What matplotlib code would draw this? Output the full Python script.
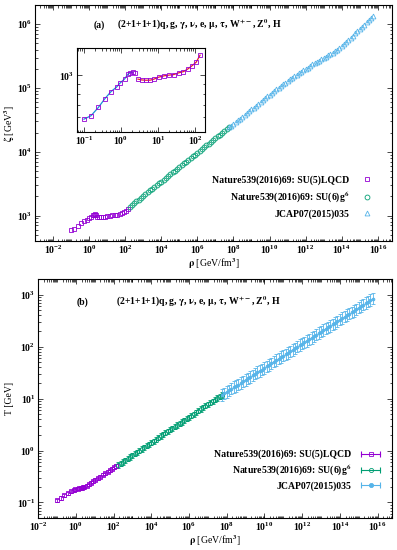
import numpy as np
import matplotlib
matplotlib.use("Agg")
import matplotlib.pyplot as plt
from matplotlib.lines import Line2D
from matplotlib.legend_handler import HandlerLine2D
from matplotlib.ticker import FixedLocator, LogLocator, NullFormatter

plt.rcParams['font.family'] = ['Liberation Serif', 'DejaVu Serif']
plt.rcParams['font.weight'] = 'bold'
plt.rcParams['mathtext.fontset'] = 'stix'
plt.rcParams['mathtext.default'] = 'bf'

# SU(5) lattice QCD (purple)
rho_su5 = [0.10, 0.155, 0.245, 0.37, 0.54, 0.76, 0.94, 1.26, 1.55, 1.8, 2.1, 2.4,
           2.88, 3.7, 4.8, 6.2, 7.8, 10.4, 14.5, 19.8, 27, 36, 49, 65, 83, 108, 137]
zeta_su5 = [585, 610, 675, 753, 820, 866, 909, 958, 1015, 1035, 1040, 1030,
            955, 945, 942, 943, 955, 978, 994, 1003, 1010, 1031, 1047, 1083, 1124, 1175, 1280]
T_su5 = [0.110, 0.122, 0.137, 0.150, 0.163, 0.173, 0.178, 0.184, 0.188, 0.191, 0.194, 0.197,
         0.202, 0.212, 0.226, 0.240, 0.254, 0.272, 0.294, 0.316, 0.340, 0.365, 0.393, 0.420,
         0.447, 0.476, 0.505]

# SU(6) g^6 (green), log10 values
lrho_su6 = [2.25, 2.375, 2.5, 2.625, 2.75, 2.875, 3.0, 3.125, 3.25, 3.375, 3.5, 3.625, 3.75,
            3.875, 4.0, 4.125, 4.25, 4.375, 4.5, 4.625, 4.75, 4.875, 5.0, 5.125, 5.25, 5.375,
            5.5, 5.625, 5.75, 5.875, 6.0, 6.125, 6.25, 6.375, 6.5, 6.625, 6.75, 6.875, 7.0,
            7.125, 7.25, 7.375, 7.5, 7.625, 7.75]
lzeta_su6 = [3.14, 3.17, 3.20, 3.225, 3.25, 3.28, 3.31, 3.34, 3.37, 3.395, 3.42, 3.45, 3.48,
             3.505, 3.53, 3.56, 3.59, 3.62, 3.65, 3.675, 3.70, 3.73, 3.76, 3.79, 3.82, 3.845,
             3.87, 3.90, 3.93, 3.955, 3.98, 4.01, 4.04, 4.07, 4.10, 4.125, 4.15, 4.18, 4.21,
             4.24, 4.27, 4.295, 4.32, 4.35, 4.38]
lT_su6 = [-0.28, -0.25, -0.22, -0.19, -0.16, -0.125, -0.09, -0.06, -0.03, 0.0, 0.03, 0.06, 0.09,
          0.12, 0.15, 0.18, 0.21, 0.245, 0.28, 0.31, 0.34, 0.37, 0.40, 0.43, 0.46, 0.49,
          0.52, 0.55, 0.58, 0.61, 0.64, 0.67, 0.70, 0.735, 0.77, 0.80, 0.83, 0.86, 0.89,
          0.92, 0.95, 0.98, 1.01, 1.04, 1.07]

# JCAP07(2015)035 (blue), log10 values
lrho_jcap = [7.75, 7.875, 8.0, 8.125, 8.25, 8.375, 8.5, 8.625, 8.75, 8.875, 9.0, 9.125, 9.25,
             9.375, 9.5, 9.625, 9.75, 9.875, 10.0, 10.125, 10.25, 10.375, 10.5, 10.625, 10.75,
             10.875, 11.0, 11.125, 11.25, 11.375, 11.5, 11.625, 11.75, 11.875, 12.0, 12.125,
             12.25, 12.375, 12.5, 12.625, 12.75, 12.875, 13.0, 13.125, 13.25, 13.375, 13.5,
             13.625, 13.75, 13.875, 14.0, 14.125, 14.25, 14.375, 14.5, 14.625, 14.75, 14.875,
             15.0, 15.125, 15.25, 15.375, 15.5, 15.625, 15.75]
lzeta_jcap = [4.38, 4.41, 4.435, 4.46, 4.49, 4.52, 4.55, 4.58, 4.61, 4.64, 4.665, 4.69, 4.72,
              4.75, 4.78, 4.81, 4.84, 4.87, 4.895, 4.92, 4.95, 4.98, 5.005, 5.03, 5.06,
              5.085, 5.11, 5.135, 5.16, 5.18, 5.205, 5.23, 5.25, 5.275, 5.30, 5.32,
              5.345, 5.37, 5.39, 5.41, 5.43, 5.45, 5.47, 5.49, 5.51, 5.53, 5.555,
              5.58, 5.60, 5.63, 5.66, 5.69, 5.72, 5.755, 5.79, 5.82, 5.855, 5.89,
              5.93, 5.96, 5.99, 6.03, 6.065, 6.10, 6.135]
lT_jcap = [1.07, 1.10, 1.13, 1.16, 1.19, 1.22, 1.245, 1.27, 1.30, 1.33, 1.36, 1.39, 1.42,
           1.45, 1.48, 1.51, 1.535, 1.56, 1.59, 1.62, 1.65, 1.68, 1.71, 1.74, 1.77,
           1.80, 1.825, 1.85, 1.88, 1.91, 1.94, 1.97, 2.00, 2.03, 2.06, 2.085,
           2.11, 2.14, 2.17, 2.20, 2.23, 2.26, 2.29, 2.32, 2.345, 2.37, 2.40,
           2.43, 2.46, 2.49, 2.52, 2.55, 2.58, 2.61, 2.635, 2.66, 2.69, 2.72,
           2.75, 2.78, 2.81, 2.84, 2.87, 2.90, 2.925]

# half-width of the T error bands (dex)
err_su5, err_su6, err_jcap = 0.03, 0.05, 0.11

labels = ["Nature539(2016)69: SU(5)LQCD", "Nature539(2016)69: SU(6)g$^6$", "JCAP07(2015)035"]
title = r"(2+1+1+1)q, g, $\gamma$, $\nu$, e, $\mu$, $\tau$, W$^{+-}$, Z$^0$, H"

c1, c2, c3 = "#9400d3", "#009e73", "#56b4e9"

rho_su6 = 10.0 ** np.array(lrho_su6)
rho_jcap = 10.0 ** np.array(lrho_jcap)

fig = plt.figure(figsize=(3.97, 5.5), dpi=100)
ax1 = fig.add_axes([0.088, 0.562, 0.899, 0.429])
ax2 = fig.add_axes([0.096, 0.058, 0.892, 0.4345])
ins = fig.add_axes([0.194, 0.760, 0.322, 0.153])

fs = 7


def style(ax, xmaj, ymaj):
    ax.set_xscale('log')
    ax.set_yscale('log')
    ax.xaxis.set_major_locator(FixedLocator(xmaj))
    ax.yaxis.set_major_locator(FixedLocator(ymaj))
    ax.xaxis.set_minor_locator(LogLocator(base=10, subs=np.arange(1, 10), numticks=200))
    ax.yaxis.set_minor_locator(LogLocator(base=10, subs=np.arange(1, 10), numticks=200))
    ax.xaxis.set_minor_formatter(NullFormatter())
    ax.yaxis.set_minor_formatter(NullFormatter())
    ax.tick_params(which='both', direction='in', top=True, right=True, labelsize=fs,
                   width=0.5, pad=2)
    ax.tick_params(which='major', length=3.5)
    ax.tick_params(which='minor', length=1.8)
    for s in ax.spines.values():
        s.set_linewidth(0.8)


ms = 3.5
# panel (a)
ax1.plot(rho_su5, zeta_su5, 's', ms=ms, mfc='none', mec=c1, mew=0.6, label=labels[0])
ax1.plot(rho_su6, 10.0 ** np.array(lzeta_su6), 'o', ms=ms, mfc='none', mec=c2, mew=0.6, label=labels[1])
ax1.plot(rho_jcap, 10.0 ** np.array(lzeta_jcap), '^', ms=ms, mfc='none', mec=c3, mew=0.6, label=labels[2])
style(ax1, 10.0 ** np.arange(-2, 17, 2), [1e3, 1e4, 1e5, 1e6])
ax1.set_xlim(1e-3, 6e16)
ax1.set_ylim(400, 2e6)
ax1.set_xlabel(r"$\rho$ [GeV/fm$^3$]", fontsize=fs, labelpad=0)
ax1.set_ylabel(r"$\zeta$ [GeV$^3$]", fontsize=fs, labelpad=0)
ax1.text(0.18, 0.915, "(a)", transform=ax1.transAxes, fontsize=fs, ha='center', va='center')
ax1.text(0.462, 0.915, title, transform=ax1.transAxes, fontsize=fs, ha='center', va='center')
ax1.legend(loc='center right', bbox_to_anchor=(0.95, 0.186), frameon=False, markerfirst=False,
           numpoints=1, handlelength=1.5, fontsize=fs, labelspacing=0.45, borderpad=0,
           borderaxespad=0, handletextpad=1.0)

# inset
split = 11
ins.plot(rho_su5[:split], zeta_su5[:split], '-', color='#1a8fd6', lw=0.9)
ins.plot(rho_su5[split + 1:], zeta_su5[split + 1:], '-', color='#e8202a', lw=0.9)
ins.plot(rho_su5, zeta_su5, 's', ms=3.5, mfc='none', mec=c1, mew=0.6)
style(ins, [1e-1, 1e0, 1e1, 1e2], [1e3])
ins.set_xlim(0.065, 185)
ins.set_ylim(500, 1400)

# panel (b)
def band(lt, e):
    lt = np.array(lt)
    t = 10.0 ** lt
    return t, [t - 10.0 ** (lt - e), 10.0 ** (lt + e) - t]

t1, e1 = band(np.log10(T_su5), err_su5)
t2, e2 = band(lT_su6, err_su6)
t3, e3 = band(lT_jcap, err_jcap)
ax2.errorbar(rho_su5, t1, yerr=e1, fmt='s', ms=3, mfc='none', mec=c1, mew=0.6, ecolor=c1,
             elinewidth=0.6, capsize=1.5, capthick=0.6)
ax2.errorbar(rho_su6, t2, yerr=e2, fmt='o', ms=3, mfc='none', mec=c2, mew=0.6, ecolor=c2,
             elinewidth=0.6, capsize=1.5, capthick=0.6)
ax2.errorbar(rho_jcap, t3, yerr=e3, fmt='o', ms=2, mfc=c3, mec=c3, mew=0.6, ecolor=c3,
             elinewidth=0.6, capsize=1.5, capthick=0.6)
style(ax2, 10.0 ** np.arange(-2, 17, 2), [1e-1, 1e0, 1e1, 1e2, 1e3])
ax2.set_xlim(1e-2, 6e16)
ax2.set_ylim(0.05, 2000)
ax2.set_xlabel(r"$\rho$ [GeV/fm$^3$]", fontsize=fs, labelpad=0)
ax2.set_ylabel("T [GeV]", fontsize=fs, labelpad=2)
ax2.text(0.124, 0.904, "(b)", transform=ax2.transAxes, fontsize=fs, ha='center', va='center')
ax2.text(0.452, 0.904, title, transform=ax2.transAxes, fontsize=fs, ha='center', va='center')

handles = []
hmap = {}
for c, m, fill in [(c1, 's', 'none'), (c2, 'o', 'none'), (c3, 'o', c3)]:
    bar = Line2D([], [], color=c, lw=0.8, marker='|', ms=4, mew=0.8)
    mk = Line2D([], [], ls='none', marker=m, ms=3, mfc=fill, mec=c, mew=0.6)
    hmap[mk] = HandlerLine2D(numpoints=1)
    handles.append((bar, mk))
ax2.legend(handles, labels, handler_map=hmap, loc='center right', bbox_to_anchor=(0.975, 0.20),
           frameon=False, markerfirst=False, numpoints=2, handlelength=2.6, fontsize=fs,
           labelspacing=0.35, borderpad=0, borderaxespad=0, handletextpad=0.7)

fig.savefig("out.png", dpi=100)
